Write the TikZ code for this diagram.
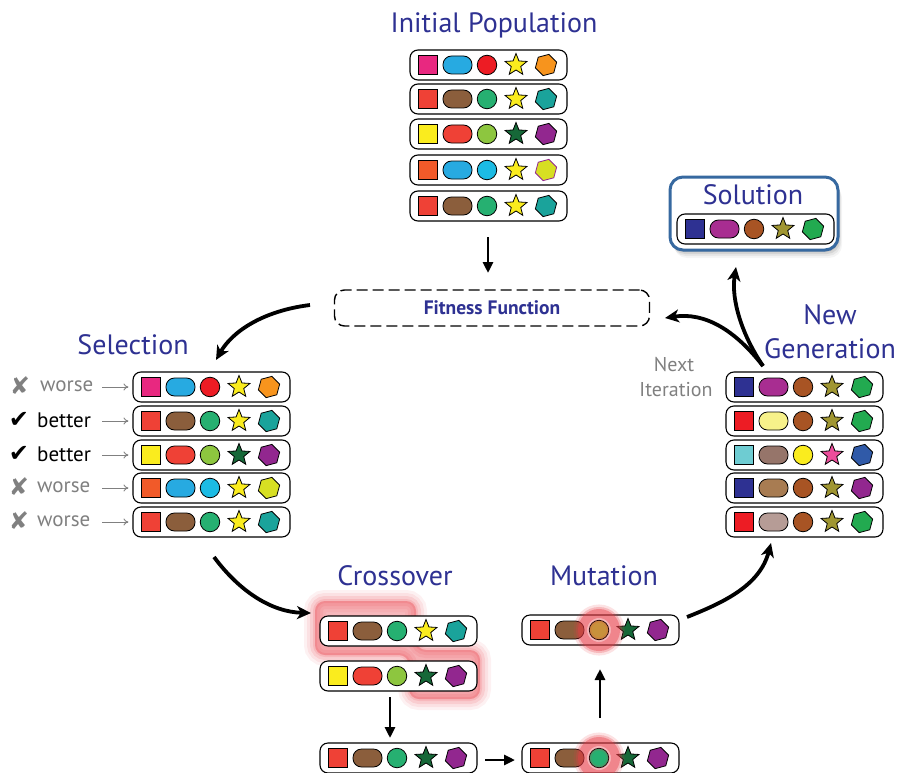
\documentclass[tikz,border=0pt]{standalone}
\usepackage{fontspec}
\setmainfont{PT Sans}
\newfontfamily\symfont{DejaVu Sans}
\usetikzlibrary{shapes.geometric,arrows.meta}
\definecolor{titleblue}{RGB}{46,49,146}
\definecolor{lblgray}{RGB}{128,128,128}
\definecolor{cMag}{RGB}{232,40,128}
\definecolor{cSky}{RGB}{39,170,225}
\definecolor{cRedA}{RGB}{237,28,36}
\definecolor{cYel}{RGB}{250,236,30}
\definecolor{cOra}{RGB}{247,148,29}
\definecolor{cRedB}{RGB}{239,65,54}
\definecolor{cBrown}{RGB}{139,94,60}
\definecolor{cGreen}{RGB}{38,176,113}
\definecolor{cTeal}{RGB}{26,163,155}
\definecolor{cLGreen}{RGB}{141,198,63}
\definecolor{cDGreen}{RGB}{22,104,56}
\definecolor{cPurple}{RGB}{146,39,143}
\definecolor{cOraRed}{RGB}{241,90,41}
\definecolor{cCyan}{RGB}{28,187,228}
\definecolor{cYGreen}{RGB}{215,223,35}
\definecolor{cNavy}{RGB}{46,49,146}
\definecolor{cMagPur}{RGB}{168,45,145}
\definecolor{cRust}{RGB}{168,84,36}
\definecolor{cOlive}{RGB}{160,150,50}
\definecolor{cHGreen}{RGB}{34,170,80}
\definecolor{cLYel}{RGB}{247,241,138}
\definecolor{cLCyan}{RGB}{110,204,210}
\definecolor{cMauve}{RGB}{150,117,106}
\definecolor{cPink}{RGB}{236,77,155}
\definecolor{cHBlue}{RGB}{48,90,168}
\definecolor{cTan}{RGB}{168,124,82}
\definecolor{cLMauve}{RGB}{182,156,150}
\definecolor{cGold}{RGB}{200,145,60}
\definecolor{solblue}{RGB}{55,105,160}
\definecolor{hlred}{RGB}{232,60,70}
\tikzset{
  cbox/.style={draw, fill=white, rounded corners=8pt, minimum width=157pt, minimum height=30pt, line width=1.1pt, inner sep=0pt},
  shp/.style={draw, line width=0.8pt, inner sep=0pt},
  sq/.style={shp, rectangle, minimum size=19pt},
  pill/.style={shp, rectangle, rounded corners=8.5pt, minimum width=29pt, minimum height=18pt},
  circ/.style={shp, circle, minimum size=19.5pt},
  st/.style={shp, star, star points=5, star point ratio=2.3, minimum size=23pt},
  hex/.style={shp, regular polygon, regular polygon sides=6, minimum size=22pt, rotate=15},
  ttl/.style={text=titleblue, font=\fontsize{28}{32}\selectfont, inner sep=0pt},
  lbl/.style={font=\fontsize{21}{24}\selectfont, inner sep=0pt, anchor=west},
  markstyle/.style={font=\symfont\fontsize{24}{27}\selectfont, inner sep=0pt},
  bigarrow/.style={line width=3.8pt, -{Stealth[length=14pt,width=13pt,inset=4pt]}},
  smallarrow/.style={line width=2.8pt, -{Triangle[length=11pt,width=10pt]}},
  grayarrow/.style={lblgray, line width=0.9pt, -{To[length=5pt,width=7pt]}},
  fitbox/.style={draw, dashed, dash pattern=on 11pt off 5pt, line width=1.4pt, rounded corners=10pt, minimum width=315pt, minimum height=36pt, text=titleblue, font=\bfseries\fontsize{19.5}{22}\selectfont},
}
\newcommand\chromo[8]{%
  \node[cbox] (#1) at (#2+78.5,#3) {};
  \node[sq, fill=#4] (#1-a) at (#2+18,#3) {};
  \node[pill, fill=#5] (#1-b) at (#2+47.5,#3) {};
  \node[circ, fill=#6] (#1-c) at (#2+77,#3) {};
  \node[st, fill=#7] (#1-d) at (#2+106,#3) {};
  \node[hex, fill=#8] (#1-e) at (#2+136,#3) {};
}
\begin{document}
\begin{tikzpicture}[x=1pt,y=-1pt]
\useasboundingbox (0,0) rectangle (899,773);
% titles
\node[ttl] (tInit) at (494,25) {Initial Population};
\node[ttl] (tSel) at (133,345) {Selection};
\node[ttl] (tCross) at (395,576) {Crossover};
\node[ttl] (tMut) at (604,576) {Mutation};
\node[ttl] (tNew) at (830,315) {New};
\node[ttl] (tGen) at (830,349) {Generation};
\node[text=lblgray, font=\fontsize{20}{23}\selectfont, inner sep=0pt] (tNext) at (674,365) {Next};
\node[text=lblgray, font=\fontsize{20}{23}\selectfont, inner sep=0pt] (tIter) at (676,390) {Iteration};
% initial population
\chromo{p1}{410}{65}{cMag}{cSky}{cRedA}{cYel}{cOra}
\chromo{p2}{410}{99}{cRedB}{cBrown}{cGreen}{cYel}{cTeal}
\chromo{p3}{410}{134}{cYel}{cRedB}{cLGreen}{cDGreen}{cPurple}
\chromo{p4}{410}{170}{cOraRed}{cSky}{cCyan}{cYel}{cYGreen, draw=cPurple}
\chromo{p5}{410}{206}{cRedB}{cBrown}{cGreen}{cYel}{cTeal}
% fitness function
\node[fitbox] (fit) at (492,308) {Fitness Function};
% solution box
\foreach \d/\o in {2/0.10,4/0.08,6/0.06,8/0.04}
  \fill[black, opacity=\o, rounded corners=13pt] (670+\d*0.5,177+\d) rectangle (838+\d*0.5,250+\d);
\draw[solblue, line width=3pt, fill=white, rounded corners=13pt] (670,177) rectangle (838,250);
\node[ttl] (tSol) at (753,195) {Solution};
\chromo{sol}{677}{229}{cNavy}{cMagPur}{cRust}{cOlive}{cHGreen}
% selection
\chromo{s1}{133}{387}{cMag}{cSky}{cRedA}{cYel}{cOra}
\chromo{s2}{133}{421}{cRedB}{cBrown}{cGreen}{cYel}{cTeal}
\chromo{s3}{133}{455}{cYel}{cRedB}{cLGreen}{cDGreen}{cPurple}
\chromo{s4}{133}{488}{cOraRed}{cSky}{cCyan}{cYel}{cYGreen}
\chromo{s5}{133}{522}{cRedB}{cBrown}{cGreen}{cYel}{cTeal}
\node[markstyle, text=lblgray] (m1) at (20,386) {✘};
\node[markstyle, text=black] (m2) at (19,420) {✔};
\node[markstyle, text=black] (m3) at (19,454) {✔};
\node[markstyle, text=lblgray] (m4) at (19,487) {✘};
\node[markstyle, text=lblgray] (m5) at (19,521) {✘};
\node[lbl, text=lblgray] (l1) at (40,386) {worse};
\node[lbl, text=black] (l2) at (37,420) {better};
\node[lbl, text=black] (l3) at (37,454) {better};
\node[lbl, text=lblgray] (l4) at (37,487) {worse};
\node[lbl, text=lblgray] (l5) at (37,521) {worse};
\foreach \i in {1,...,5} \draw[grayarrow] ([xshift=-30pt]s\i.west) -- ([xshift=-4pt]s\i.west);
% new generation
\chromo{n1}{726}{387}{cNavy}{cMagPur}{cRust}{cOlive}{cHGreen}
\chromo{n2}{726}{421}{cRedA}{cLYel}{cRust}{cOlive}{cHGreen}
\chromo{n3}{726}{455}{cLCyan}{cMauve}{cYel}{cPink}{cHBlue}
\chromo{n4}{726}{488}{cNavy}{cTan}{cRust}{cOlive}{cPurple}
\chromo{n5}{726}{522}{cRedA}{cLMauve}{cRust}{cOlive}{cHGreen}
% crossover highlight
\foreach \w/\o in {22/0.07,16/0.09,10/0.12,4/0.15}
  \filldraw[hlred, opacity=\o, line width=\w pt, rounded corners=10pt]
    (315,601) -- (416,601) -- (416,650) -- (480,650) -- (480,699) -- (409,699) -- (409,655) -- (315,655) -- cycle;
\chromo{c1}{320}{631}{cRedB}{cBrown}{cGreen}{cYel}{cTeal}
\chromo{c2}{320}{676}{cYel}{cRedB}{cLGreen}{cDGreen}{cPurple}
% child rows
\chromo{b1}{320}{758}{cRedB}{cBrown}{cGreen}{cDGreen}{cPurple}
\chromo{b2}{522}{758}{cRedB}{cBrown}{cGreen}{cDGreen}{cPurple}
\chromo{mu}{522}{630}{cRedB}{cBrown}{cGold}{cDGreen}{cPurple}
% mutation rings
\foreach \w/\o in {18/0.15,13/0.25,9/0.40}{
  \draw[hlred, opacity=\o, line width=\w pt] (mu-c) circle (16.5pt);
  \draw[hlred, opacity=\o, line width=\w pt] (b2-c) circle (16.5pt);
}
% connectors
\coordinate (a1s) at (310,305);
\coordinate (a1e) at (216,360);
\draw[bigarrow] (a1s) .. controls (262,311) and (232,332) .. (a1e);
\coordinate (a2s) at (214,557);
\coordinate (a2e) at (311,613);
\draw[bigarrow] (a2s) .. controls (240,592) and (272,612) .. (a2e);
\coordinate (a3s) at (687,617);
\coordinate (a3e) at (771,543);
\draw[bigarrow] (a3s) .. controls (725,602) and (760,585) .. (a3e);
\coordinate (a4s) at (763,366);
\coordinate (a4e) at (665,318);
\draw[bigarrow] (a4s) .. controls (735,330) and (705,312) .. (a4e);
\coordinate (a5e) at (736,267);
\draw[bigarrow] (a4s) .. controls (742,335) and (731,300) .. (a5e);
\coordinate (d1s) at (488,237);
\coordinate (d1e) at (488,273);
\draw[smallarrow] (d1s) -- (d1e);
\coordinate (d2s) at (390,697);
\coordinate (d2e) at (390,738);
\draw[smallarrow] (d2s) -- (d2e);
\coordinate (d3s) at (485,760);
\coordinate (d3e) at (515,760);
\draw[smallarrow] (d3s) -- (d3e);
\coordinate (d4s) at (600,718);
\coordinate (d4e) at (600,669);
\draw[smallarrow] (d4s) -- (d4e);
\end{tikzpicture}
\end{document}
